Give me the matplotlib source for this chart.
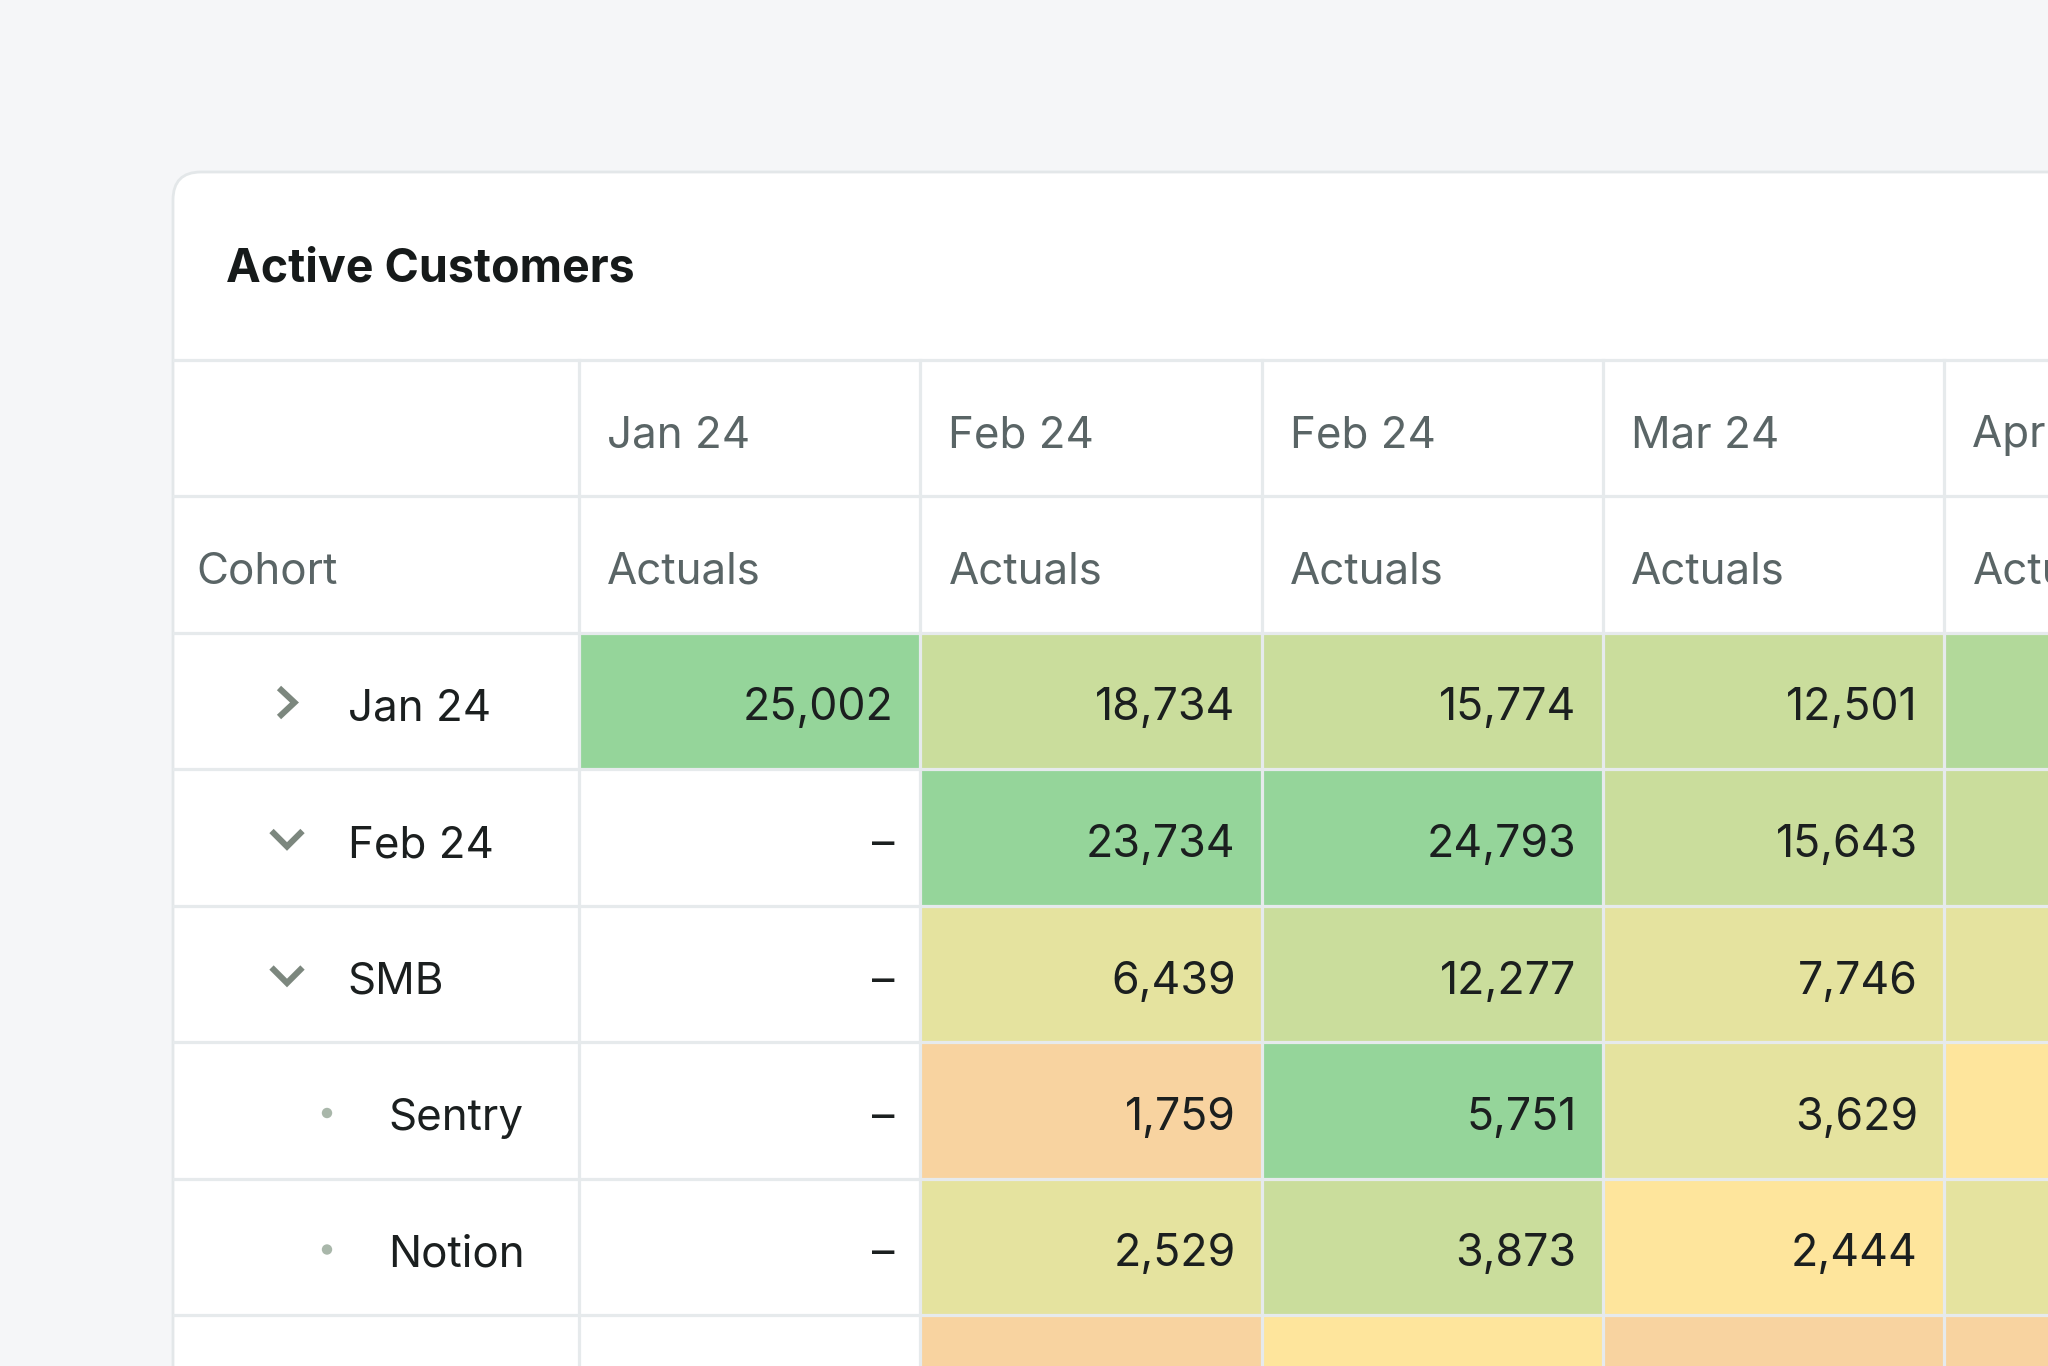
import matplotlib
matplotlib.use("Agg")
import matplotlib.pyplot as plt
from matplotlib.patches import FancyBboxPatch, Rectangle, Circle
from matplotlib.lines import Line2D

# ---------------- data ----------------
title = "Active Customers"
month_headers = ["Jan 24", "Feb 24", "Feb 24", "Mar 24", "Apr 24"]
sub_header_first = "Cohort"
sub_headers = ["Actuals", "Actuals", "Actuals", "Actuals", "Actuals"]

row_labels = ["Jan 24", "Feb 24", "SMB", "Sentry", "Notion", ""]
row_kind = ["collapsed", "expanded", "expanded", "leaf", "leaf", "none"]

# None -> hidden/off-canvas, "–" -> no data
val_jan = [25002, "–", "–", "–", "–", None]
val_feb = [18734, 23734, 6439, 1759, 2529, None]
val_feb2 = [15774, 24793, 12277, 5751, 3873, None]
val_mar = [12501, 15643, 7746, 3629, 2444, None]
val_apr = [None, None, None, None, None, None]

# heat level per cell (0 = no fill)
lvl_jan = [6, 0, 0, 0, 0, 0]
lvl_feb = [4, 6, 3, 1, 3, 1]
lvl_feb2 = [4, 6, 4, 6, 4, 2]
lvl_mar = [4, 4, 3, 3, 2, 1]
lvl_apr = [5, 4, 3, 2, 3, 1]

values = [val_jan, val_feb, val_feb2, val_mar, val_apr]
levels = [lvl_jan, lvl_feb, lvl_feb2, lvl_mar, lvl_apr]

palette = {
    0: "#ffffff",
    1: "#f8d3a0",  # orange
    2: "#fee59c",  # yellow
    3: "#e5e39f",  # yellow-green
    4: "#cadd9c",  # light green
    5: "#b2d99a",  # medium green
    6: "#95d59a",  # strong green
}

# ---------------- layout ----------------
W, H = 2048, 1366
fig = plt.figure(figsize=(W / 100, H / 100), dpi=100)
fig.patch.set_facecolor("#f5f6f8")
ax = fig.add_axes([0, 0, 1, 1])
ax.set_xlim(0, W)
ax.set_ylim(H, 0)
ax.axis("off")

FONT = ["Inter", "DejaVu Sans"]
GRID = "#e6eaec"
HEAD_C = "#5a6566"
BODY_C = "#1b1f1f"
FS = 31.6

card_x, card_y = 173, 172
card = FancyBboxPatch((card_x, card_y), 2400, 1600,
                      boxstyle="round,pad=0,rounding_size=28",
                      facecolor="white", edgecolor="#e3e7e9", linewidth=2.0, zorder=1)
ax.add_patch(card)

ax.text(226, 281, title, fontsize=33.5, fontweight="bold", color="#161a1a",
        family=FONT, va="baseline", ha="left", zorder=5)

col_edges = [card_x, 578.5, 920, 1261.5, 1602.5, 1944, 2285.5]
header_top = 359.5
row_h = 136.5
n_hdr = 2
n_rows = len(row_labels)
row_tops = [header_top + i * row_h for i in range(n_hdr + n_rows + 1)]

# coloured cells
for c in range(len(values)):
    x0, x1 = col_edges[c + 1], col_edges[c + 2]
    for r in range(n_rows):
        lv = levels[c][r]
        if lv == 0:
            continue
        y0 = row_tops[n_hdr + r]
        ax.add_patch(Rectangle((x0, y0), x1 - x0, row_h, facecolor=palette[lv],
                               edgecolor="none", zorder=2))

# grid lines
for y in row_tops:
    ax.add_line(Line2D([card_x + 1, W + 5], [y, y], color=GRID, lw=2.3, zorder=3))
for x in col_edges[1:]:
    ax.add_line(Line2D([x, x], [header_top, H + 5], color=GRID, lw=2.3, zorder=3))

BASE = 88  # baseline offset inside a row

# header row 1
for c, lab in enumerate(month_headers):
    ax.text(col_edges[c + 1] + 28.5, row_tops[0] + BASE, lab, fontsize=FS, color=HEAD_C,
            family=FONT, va="baseline", ha="left", zorder=5)
# header row 2
ax.text(196.5, row_tops[1] + BASE, sub_header_first, fontsize=FS, color=HEAD_C,
        family=FONT, va="baseline", ha="left", zorder=5)
for c, lab in enumerate(sub_headers):
    ax.text(col_edges[c + 1] + 28.5, row_tops[1] + BASE, lab, fontsize=FS, color=HEAD_C,
            family=FONT, va="baseline", ha="left", zorder=5)

# row labels + icons
CHEV = "#7c877e"
for r, (lab, kind) in enumerate(zip(row_labels, row_kind)):
    top = row_tops[n_hdr + r]
    cy = top + 70
    if kind == "collapsed":
        ax.add_line(Line2D([279, 294.5, 279], [cy - 14.5, cy, cy + 14.5], color=CHEV,
                           lw=4.4, solid_joinstyle="miter", solid_capstyle="butt", zorder=5))
        tx = 347.5
    elif kind == "expanded":
        ax.add_line(Line2D([271.5, 287, 302.5], [cy - 8, cy + 7.5, cy - 8], color=CHEV,
                           lw=4.4, solid_joinstyle="miter", solid_capstyle="butt", zorder=5))
        tx = 347.5
    elif kind == "leaf":
        ax.add_patch(Circle((327, top + 71), 5.2, facecolor="#a9b7aa", edgecolor="none", zorder=5))
        tx = 388.5
    else:
        tx = 347.5
    if lab:
        ax.text(tx, top + BASE, lab, fontsize=FS, color=BODY_C, family=FONT,
                va="baseline", ha="left", zorder=5)

# values
for c in range(len(values)):
    xr = col_edges[c + 2] - 26
    for r in range(n_rows):
        v = values[c][r]
        if v is None:
            continue
        s = v if isinstance(v, str) else f"{v:,}"
        ax.text(xr, row_tops[n_hdr + r] + BASE, s, fontsize=FS + 0.6, color=BODY_C,
                family=FONT, va="baseline", ha="right", zorder=5)

fig.savefig("out.png", dpi=100, facecolor=fig.get_facecolor())
